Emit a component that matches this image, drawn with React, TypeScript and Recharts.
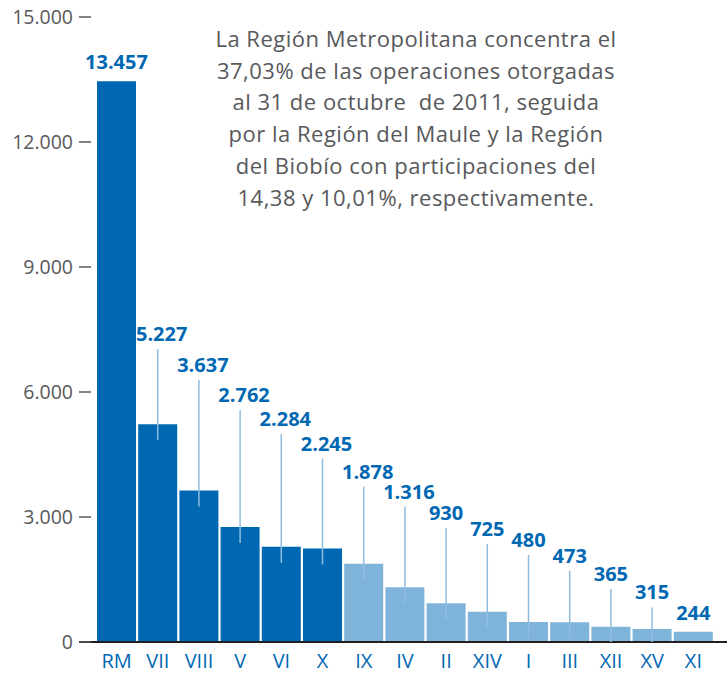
import { Bar, BarChart, Cell, LabelList, XAxis, YAxis } from 'recharts';

const regions = ['RM', 'VII', 'VIII', 'V', 'VI', 'X', 'IX', 'IV', 'II', 'XIV', 'I', 'III', 'XII', 'XV', 'XI'];
const operations = [13457, 5227, 3637, 2762, 2284, 2245, 1878, 1316, 930, 725, 480, 473, 365, 315, 244];
// height (in operations) where each callout's leader line starts; null = label sits on the bar
const calloutAt: (number | null)[] = [null, 7030, 6290, 5570, 4990, 4400, 3730, 3250, 2730, 2350, 2090, 1710, 1270, 830, null];
const yTicks = [0, 3000, 6000, 9000, 12000, 15000];
const note = [
  'La Región Metropolitana concentra el',
  '37,03% de las operaciones otorgadas',
  'al 31 de octubre  de 2011, seguida',
  'por la Región del Maule y la Región',
  'del Biobío con participaciones del',
  '14,38 y 10,01%, respectivamente.',
];

const DARK = '#0068b3';
const LIGHT = '#7fb4da';
const GREY = '#58595b';
const FONT = '"Open Sans", "Noto Sans", sans-serif';

const fmt = (v: number) => String(v).replace(/\B(?=(\d{3})+(?!\d))/g, '.');

const data = regions.map((region, i) => ({ region, value: operations[i] }));

const YTick = ({ x, y, payload }: any) => (
  <g>
    <text x={x + 2} y={y} dy="0.35em" textAnchor="end" fill={GREY} fontSize={19.5} fontFamily={FONT}>
      {fmt(payload.value)}
    </text>
    <line x1={x + 8} x2={x + 20} y1={y} y2={y} stroke={GREY} strokeWidth={1.5} />
  </g>
);

const Callout = (props: any) => {
  const { x, y, width, height, index } = props;
  const value = operations[index];
  const cx = x + width / 2;
  const base = y + height;
  const anchor = calloutAt[index];
  const label = (ty: number, tx: number) => (
    <text x={tx} y={ty} textAnchor="middle" fill={DARK} fontSize={20} fontWeight={700} fontFamily={FONT}>
      {fmt(value)}
    </text>
  );
  if (anchor == null) return label(y - 12, cx);
  const top = base - (anchor * height) / value;
  return (
    <g>
      <line x1={cx} x2={cx} y1={top} y2={Math.min(y + 16, base)} stroke="#8fbde0" strokeWidth={1.5} />
      {label(top - 8, cx + (index < 8 ? 4 : 0))}
    </g>
  );
};

export default function App() {
  return (
    <div style={{ position: 'absolute', left: 0, top: 0, width: 727, height: 673, background: '#fff' }}>
      <BarChart width={727} height={673} data={data} margin={{ top: 17, right: 0, bottom: 0, left: 0 }}>
        <XAxis
          dataKey="region"
          height={31}
          padding={{ left: 17, right: 13 }}
          axisLine={{ stroke: '#231f20', strokeWidth: 2 }}
          tickLine={false}
          tickMargin={6}
          interval={0}
          tick={{ fill: DARK, fontSize: 20, fontFamily: FONT }}
        />
        <YAxis
          width={79}
          domain={[0, 15000]}
          ticks={yTicks}
          axisLine={false}
          tickLine={false}
          tick={<YTick />}
        />
        <Bar dataKey="value" barSize={39} isAnimationActive={false}>
          {data.map((d, i) => (
            <Cell key={d.region} fill={i < 6 ? DARK : LIGHT} />
          ))}
          <LabelList dataKey="value" content={<Callout />} />
        </Bar>
      </BarChart>
      <div
        style={{
          position: 'absolute',
          left: 116,
          top: 23,
          width: 600,
          textAlign: 'center',
          fontFamily: FONT,
          fontSize: 22,
          letterSpacing: 0.5,
          lineHeight: '31.7px',
          color: GREY,
          whiteSpace: 'pre',
        }}
      >
        {note.join('\n')}
      </div>
    </div>
  );
}
